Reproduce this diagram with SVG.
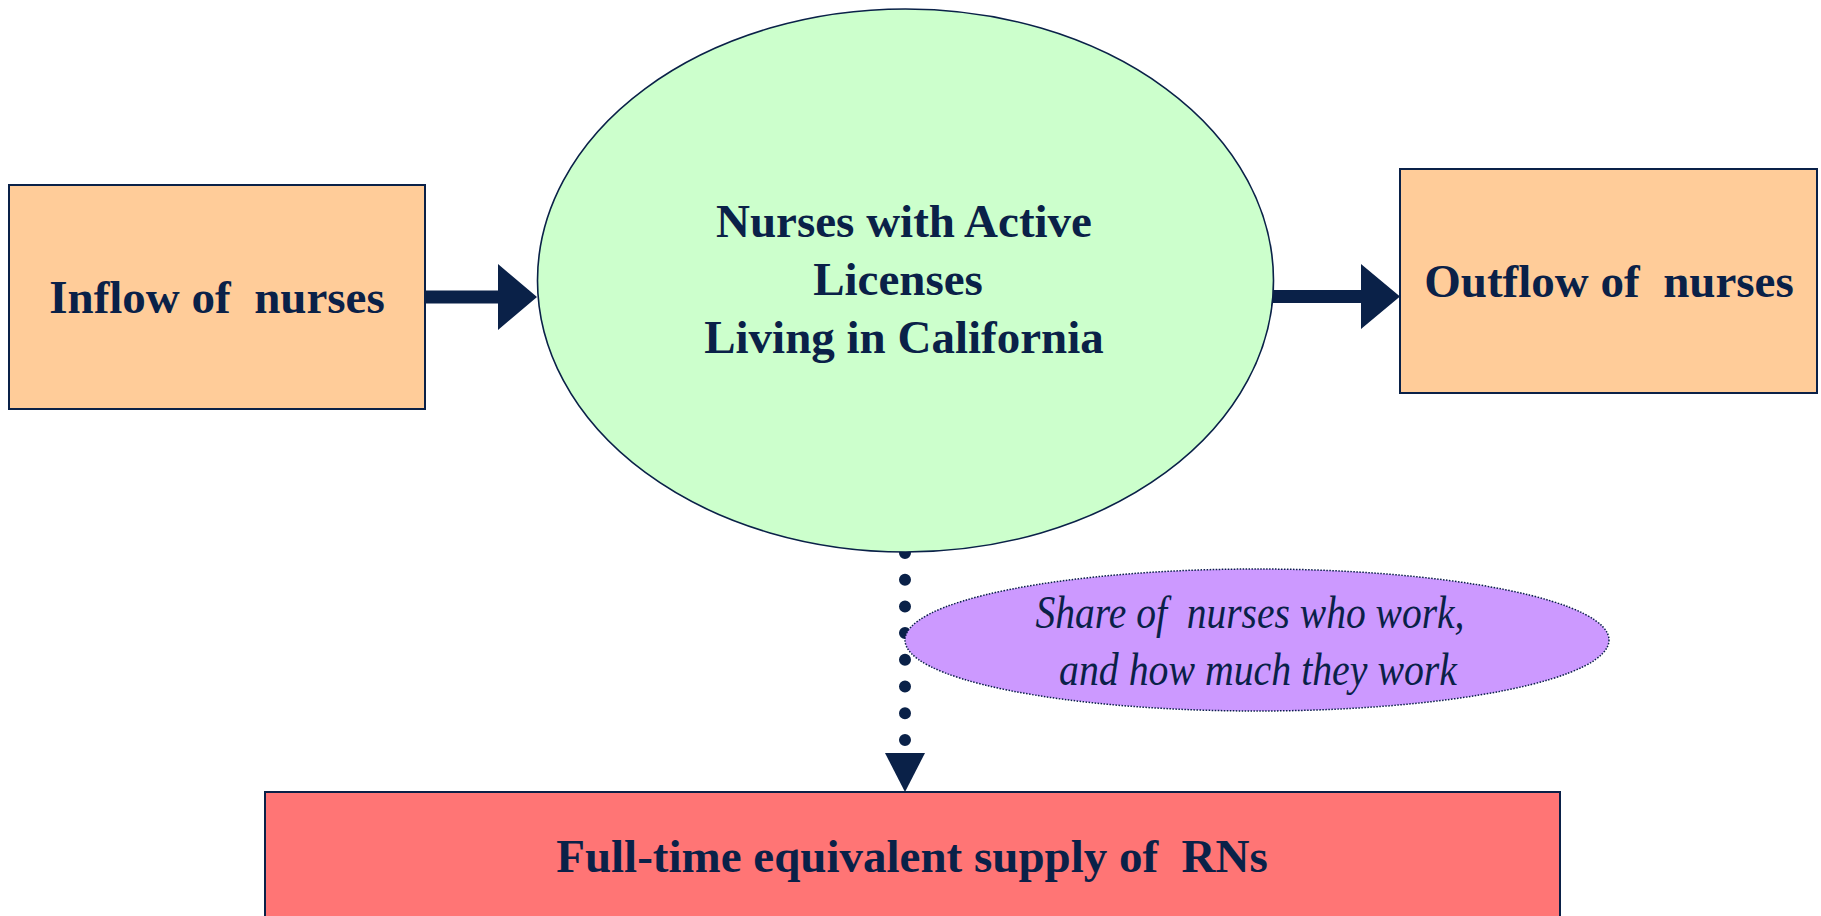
<svg xmlns="http://www.w3.org/2000/svg" width="1821" height="916" viewBox="0 0 1821 916">
  <style>
    .box { stroke: #0A2148; stroke-width: 2; }
    .flow { fill: #FFCC99; }
    .label { font-family: "Liberation Serif", "Times New Roman", serif; font-weight: bold; font-size: 47px; fill: #0A2148; text-anchor: middle; }
    .note { font-family: "Liberation Serif", "Times New Roman", serif; font-style: italic; font-size: 47px; fill: #0A2148; text-anchor: middle; }
    .arrow { fill: #0A2148; }
  </style>

  <!-- Connectors -->
  <g id="connectors">
    <!-- inflow -> stock -->
    <path class="arrow" d="M425 290.5 H498 V264 L537 297 L498 330 V303.5 H425 Z"/>
    <!-- stock -> outflow -->
    <path class="arrow" d="M1272 290 H1361 V264 L1400 296.5 L1361 329 V303 H1272 Z"/>
    <!-- stock -> FTE supply (dotted) -->
    <line x1="905" y1="553" x2="905" y2="742" stroke="#0A2148" stroke-width="12" stroke-linecap="round" stroke-dasharray="0 26.7"/>
    <path class="arrow" d="M885 753 H925 L905 792 Z"/>
  </g>

  <g id="inflow">
    <rect class="box flow" x="9" y="185" width="416" height="224"/>
    <text class="label" x="217" y="313">Inflow of&#160; nurses</text>
  </g>

  <g id="stock">
    <ellipse cx="905.5" cy="280.5" rx="368" ry="271.5" fill="#CCFFCC" stroke="#0A2148" stroke-width="1.6"/>
    <text class="label" x="904" y="237">Nurses with Active</text>
    <text class="label" x="898" y="295">Licenses</text>
    <text class="label" x="904" y="353">Living in California</text>
  </g>

  <g id="outflow">
    <rect class="box flow" x="1400" y="169" width="417" height="224"/>
    <text class="label" x="1609" y="297">Outflow of&#160; nurses</text>
  </g>

  <g id="work-share">
    <ellipse cx="1257" cy="640" rx="352" ry="71" fill="#CC99FF" stroke="#0A2148" stroke-width="1.5" stroke-dasharray="1.5 1.5"/>
    <text class="note" x="1250" y="628" textLength="429" lengthAdjust="spacingAndGlyphs">Share of&#160; nurses who work,</text>
    <text class="note" x="1258" y="685" textLength="398" lengthAdjust="spacingAndGlyphs">and how much they work</text>
  </g>

  <g id="fte-supply">
    <rect class="box" x="265" y="792" width="1295" height="150" fill="#FF7575"/>
    <text class="label" x="912" y="872">Full-time equivalent supply of&#160; RNs</text>
  </g>
</svg>
